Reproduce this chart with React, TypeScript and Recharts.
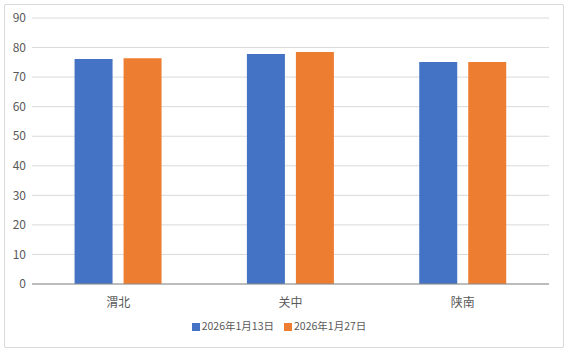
import { BarChart, Bar, XAxis, YAxis, CartesianGrid, Legend } from "recharts";

const regions = ["渭北", "关中", "陕南"];
const jan13 = [76.1, 77.8, 75.1];
const jan27 = [76.4, 78.5, 75.1];
const yTicks = [0, 10, 20, 30, 40, 50, 60, 70, 80, 90];

const data = regions.map((name, i) => ({ name, a: jan13[i], b: jan27[i] }));

const font = '"Noto Sans CJK SC", "Noto Sans", sans-serif';

export default function App() {
  return (
    <div style={{ position: "absolute", left: 0, top: 0, width: 568, height: 352, background: "#fff" }}>
      <div
        style={{
          position: "absolute",
          left: 4,
          top: 4,
          width: 558,
          height: 342,
          border: "1px solid #d9d9d9",
          borderRadius: 2,
        }}
      />
      <BarChart
        width={568}
        height={352}
        data={data}
        margin={{ top: 18, right: 19, left: 0, bottom: 23 }}
        barCategoryGap="24.7%"
        barGap={11}
        style={{ fontFamily: font }}
      >
        <CartesianGrid stroke="#d9d9d9" vertical={false} />
        <XAxis
          dataKey="name"
          height={30}
          tickLine={false}
          axisLine={{ stroke: "#8c8c8c" }}
          tick={{ fontSize: 12, fill: "#595959" }}
          tickMargin={8}
        />
        <YAxis
          width={32}
          domain={[0, 90]}
          ticks={yTicks}
          axisLine={false}
          tickLine={false}
          tickSize={0}
          tickMargin={6}
          tick={{ fontSize: 12, fill: "#595959" }}
        />
        <Legend
          verticalAlign="bottom"
          iconType="square"
          iconSize={8}
          wrapperStyle={{ top: 318, left: 0, width: 568, fontSize: 10.5, color: "#595959" }}
          formatter={(v) => <span style={{ color: "#595959", marginLeft: -2 }}>{v}</span>}
        />
        <Bar dataKey="a" name="2026年1月13日" fill="#4472C4" isAnimationActive={false} />
        <Bar dataKey="b" name="2026年1月27日" fill="#ED7D31" isAnimationActive={false} />
      </BarChart>
    </div>
  );
}
